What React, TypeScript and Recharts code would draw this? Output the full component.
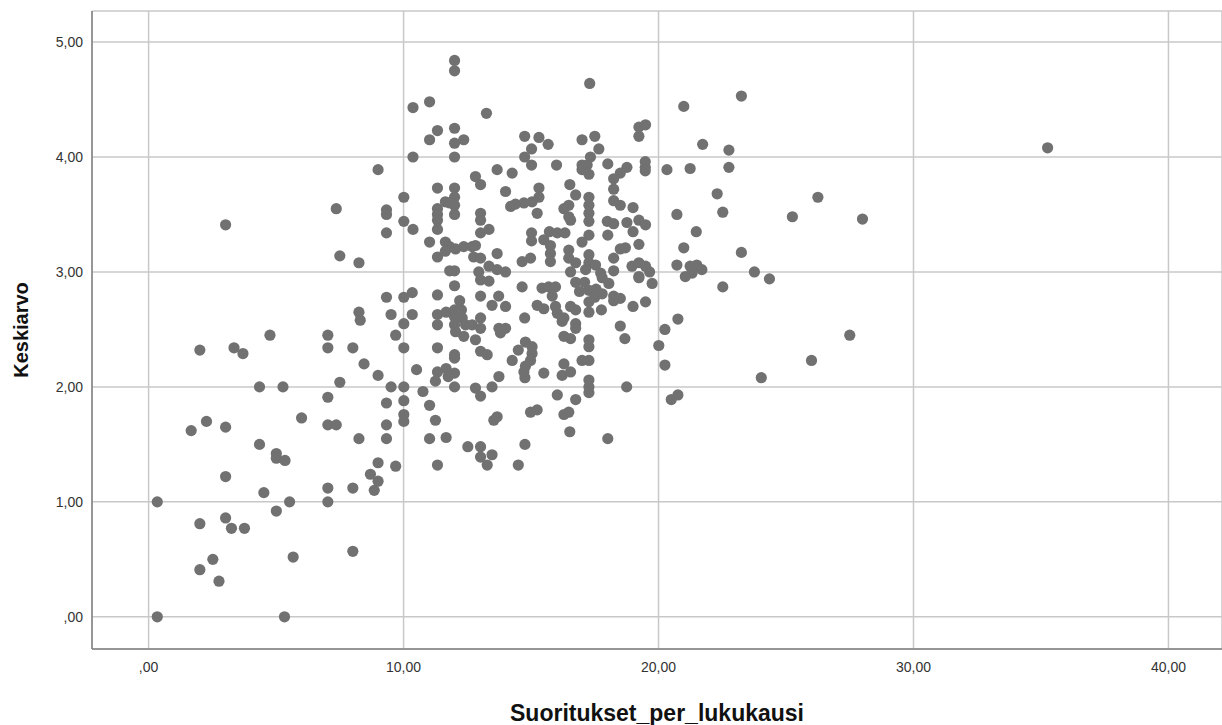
import { CartesianGrid, Scatter, ScatterChart, XAxis, YAxis } from "recharts";

// Suoritukset_per_lukukausi (x) vs Keskiarvo (y), grouped by x band
const lowBand: [number, number][] = [
  [3.02, 3.41], [7.36, 3.55], [7.5, 3.14], [8.25, 3.08], [8.25, 2.65], [8.3, 2.58], [4.76, 2.45],
  [7.03, 2.45], [2.01, 2.32], [3.35, 2.34], [3.7, 2.29], [7.03, 2.34], [8.01, 2.34], [8.45, 2.2],
  [4.35, 2.0], [5.27, 2.0], [7.5, 2.04], [7.03, 1.91], [6.0, 1.73], [1.67, 1.62], [2.27, 1.7],
  [3.02, 1.65], [7.03, 1.67], [7.36, 1.67], [8.25, 1.55], [4.35, 1.5], [5.01, 1.42], [5.01, 1.38],
  [5.35, 1.36], [3.02, 1.22], [4.52, 1.08], [7.03, 1.12], [8.01, 1.12], [0.34, 1.0], [5.53, 1.0],
  [7.03, 1.0], [5.01, 0.92], [2.01, 0.81], [3.02, 0.86], [3.25, 0.77], [3.76, 0.77], [8.01, 0.57],
  [5.67, 0.52], [2.52, 0.5], [2.01, 0.41], [2.76, 0.31], [0.34, 0], [5.33, 0],
];

const midBand: [number, number][] = [
  [12.0, 4.84], [12.0, 4.75], [10.37, 4.43], [11.02, 4.48], [11.33, 4.23], [11.02, 4.15], [12.0, 4.25],
  [12.0, 4.12], [12.36, 4.15], [10.37, 4.0], [12.0, 4.0], [9.0, 3.89], [11.33, 3.73], [12.0, 3.73],
  [12.0, 3.65], [12.0, 3.58], [12.0, 3.5], [11.64, 3.61], [11.81, 3.6], [11.33, 3.55], [11.33, 3.5],
  [11.33, 3.45], [10.01, 3.65], [9.33, 3.54], [9.33, 3.5], [10.01, 3.44], [10.37, 3.37], [11.33, 3.37],
  [9.33, 3.34], [11.02, 3.26], [11.64, 3.26], [11.81, 3.22], [12.04, 3.2], [12.36, 3.22], [12.69, 3.22],
  [11.33, 3.13], [11.64, 3.18], [12.75, 3.13], [11.81, 3.01], [12.0, 3.01], [12.95, 3.0],
  [12.0, 2.88], [9.33, 2.78], [10.01, 2.78], [10.34, 2.82], [11.33, 2.8], [9.51, 2.63], [10.01, 2.55],
  [10.34, 2.63], [11.33, 2.63], [11.67, 2.65], [11.33, 2.54], [12.0, 2.67], [12.27, 2.67], [12.0, 2.61],
  [12.3, 2.6], [12.0, 2.54], [12.43, 2.54], [12.04, 2.48], [12.36, 2.44], [12.2, 2.75], [12.69, 2.54],
  [9.69, 2.45], [10.01, 2.34], [11.33, 2.34], [9.0, 2.1], [10.51, 2.15], [12.0, 2.28], [12.0, 2.25],
  [11.33, 2.13], [11.67, 2.16], [12.0, 2.12], [11.75, 2.09], [11.25, 2.05], [9.51, 2.0], [10.01, 2.0],
  [10.76, 1.96], [12.0, 2.0], [9.33, 1.86], [10.01, 1.88], [11.02, 1.84], [10.01, 1.76], [10.01, 1.7],
  [9.33, 1.67], [11.25, 1.71], [9.33, 1.55], [11.02, 1.55], [11.67, 1.56], [12.52, 1.48], [9.0, 1.34],
  [9.69, 1.31], [11.33, 1.32], [8.7, 1.24], [9.0, 1.18], [8.85, 1.1],
];

const upperBand: [number, number][] = [
  [17.3, 4.64], [13.25, 4.38], [14.75, 4.18], [15.31, 4.17], [15.67, 4.11], [15.02, 4.07], [14.75, 4.0],
  [15.02, 3.93], [16.0, 3.93], [17.0, 4.15], [17.5, 4.18], [17.66, 4.07], [17.33, 4.0], [17.0, 3.93],
  [17.2, 3.93], [17.0, 3.89], [17.27, 3.85], [13.67, 3.89], [14.26, 3.86], [12.82, 3.83], [13.02, 3.76],
  [14.0, 3.7], [15.31, 3.73], [15.31, 3.65], [15.04, 3.61], [14.72, 3.6], [14.39, 3.59], [14.2, 3.57],
  [15.24, 3.51], [16.52, 3.76], [16.75, 3.67], [16.48, 3.58], [16.29, 3.55], [16.48, 3.48], [16.55, 3.45],
  [17.27, 3.65], [17.27, 3.58], [17.27, 3.51], [17.27, 3.44], [13.02, 3.51], [13.02, 3.45], [13.02, 3.34],
  [13.35, 3.37], [15.02, 3.34], [15.02, 3.27], [15.72, 3.35], [16.03, 3.34], [16.33, 3.34], [15.5, 3.28],
  [15.76, 3.23], [15.76, 3.16], [15.76, 3.09], [17.27, 3.32], [17.0, 3.26], [13.67, 3.16], [12.82, 3.23],
  [13.02, 3.12], [13.35, 3.05], [13.67, 3.02], [14.0, 3.0], [14.65, 3.09], [14.98, 3.12], [16.48, 3.19],
  [16.48, 3.12], [16.75, 3.08], [16.55, 3.0], [17.27, 3.15], [17.27, 3.08], [17.14, 3.02], [17.53, 3.06],
  [13.02, 2.93], [13.35, 2.92], [13.02, 2.79], [13.73, 2.79], [13.47, 2.71], [14.0, 2.7], [14.65, 2.87],
  [15.43, 2.86], [15.69, 2.87], [15.96, 2.87], [15.83, 2.79], [15.24, 2.71], [15.5, 2.68], [15.96, 2.7],
  [16.03, 2.64], [16.22, 2.57], [16.29, 2.6], [16.55, 2.7], [16.75, 2.67], [16.75, 2.55], [16.75, 2.51],
  [16.75, 2.91], [17.1, 2.91], [16.9, 2.83], [17.27, 2.84], [17.55, 2.85], [17.27, 2.74], [17.27, 2.65],
  [17.5, 2.78], [13.02, 2.6], [13.02, 2.51], [12.82, 2.41], [13.74, 2.51], [14.0, 2.51], [13.8, 2.47],
  [14.75, 2.6], [16.29, 2.44], [16.55, 2.42], [17.27, 2.41], [17.27, 2.35], [13.02, 2.31], [13.28, 2.28],
  [14.5, 2.32], [14.78, 2.39], [15.04, 2.35], [15.04, 2.29], [14.98, 2.23], [14.26, 2.23], [14.78, 2.18],
  [14.72, 2.13], [14.76, 2.08], [15.5, 2.12], [16.29, 2.2], [16.22, 2.1], [16.55, 2.13], [17.0, 2.23],
  [17.27, 2.23], [17.27, 2.06], [17.27, 2.0], [17.27, 1.95], [13.74, 2.09], [13.47, 2.0], [12.82, 1.99],
  [13.02, 1.92], [16.03, 1.93], [16.75, 1.89], [14.98, 1.78], [15.24, 1.8], [13.54, 1.71], [13.67, 1.74],
  [16.29, 1.76], [16.48, 1.78], [16.52, 1.61], [13.02, 1.48], [13.47, 1.41], [13.02, 1.39], [13.28, 1.32],
  [14.76, 1.5], [14.5, 1.32],
];

const highBand: [number, number][] = [
  [20.99, 4.44], [19.23, 4.26], [19.49, 4.28], [19.23, 4.18], [21.73, 4.11], [18.01, 3.94], [18.76, 3.91],
  [18.5, 3.86], [18.24, 3.81], [19.48, 3.96], [19.48, 3.91], [19.48, 3.88], [20.33, 3.89], [21.24, 3.9],
  [22.3, 3.68], [18.24, 3.72], [18.24, 3.62], [18.5, 3.58], [19.0, 3.56], [17.99, 3.44], [18.24, 3.42],
  [18.76, 3.43], [19.23, 3.45], [19.49, 3.41], [19.0, 3.35], [18.01, 3.32], [20.72, 3.5], [21.48, 3.35],
  [18.5, 3.2], [18.7, 3.21], [19.23, 3.24], [18.24, 3.12], [20.99, 3.21], [17.73, 2.99], [18.24, 3.01],
  [18.96, 3.05], [19.23, 3.08], [19.49, 3.05], [19.23, 2.96], [20.72, 3.06], [21.24, 3.05], [21.5, 3.06],
  [21.7, 3.02], [21.32, 2.99], [21.05, 2.96], [19.65, 3.0], [17.79, 2.95], [18.05, 2.9], [17.79, 2.81],
  [18.24, 2.79], [18.5, 2.77], [18.24, 2.75], [19.23, 2.95], [19.75, 2.9], [17.76, 2.67], [19.0, 2.7],
  [19.49, 2.74], [18.5, 2.53], [18.68, 2.42], [22.52, 2.87], [20.76, 2.59], [20.25, 2.5], [20.01, 2.36],
  [20.25, 2.19], [18.75, 2.0], [20.5, 1.89], [20.76, 1.93], [18.01, 1.55], [23.25, 4.53], [22.76, 4.06],
  [22.76, 3.91], [22.52, 3.52], [25.25, 3.48], [26.25, 3.65], [28.0, 3.46], [35.26, 4.08], [23.25, 3.17],
  [23.76, 3.0], [24.35, 2.94], [27.5, 2.45], [26.0, 2.23], [24.03, 2.08],
];

const xTicks = [0, 10, 20, 30, 40];
const yTicks = [0, 1, 2, 3, 4, 5];

const points = [...lowBand, ...midBand, ...upperBand, ...highBand].map(([x, y]) => ({ x, y }));

const fmt = (v: number) => (v === 0 ? ",00" : v.toFixed(2).replace(".", ","));

const font = "'Liberation Sans', Arial, sans-serif";

export default function App() {
  return (
    <div style={{ position: "absolute", left: 0, top: 0, background: "#fff" }}>
      <ScatterChart width={1222} height={725} margin={{ top: 11, right: 0, bottom: 6, left: 12 }}>
        <CartesianGrid stroke="#c8c8c8" strokeWidth={1.5} />
        <XAxis
          type="number"
          dataKey="x"
          domain={[-2.22, 42.1]}
          ticks={xTicks}
          tickFormatter={fmt}
          height={70}
          tickLine={false}
          tickSize={0}
          tickMargin={13}
          stroke="#808080"
          strokeWidth={1.5}
          tick={{ fill: "#333", fontSize: 14, fontFamily: font }}
          label={{
            value: "Suoritukset_per_lukukausi",
            position: "insideBottom",
            offset: -2,
            style: { fontSize: 23, fontWeight: "bold", fill: "#111", fontFamily: font },
          }}
        />
        <YAxis
          type="number"
          dataKey="y"
          domain={[-0.28, 5.27]}
          ticks={yTicks}
          tickFormatter={fmt}
          width={80}
          tickLine={false}
          tickSize={0}
          tickMargin={9}
          stroke="#808080"
          strokeWidth={1.5}
          tick={{ fill: "#333", fontSize: 14, fontFamily: font }}
          label={{
            value: "Keskiarvo",
            angle: -90,
            position: "insideLeft",
            offset: 9,
            style: { fontSize: 20, fontWeight: "bold", fill: "#111", fontFamily: font, textAnchor: "middle" },
          }}
        />
        <Scatter
          data={points}
          isAnimationActive={false}
          shape={(p: any) => <circle cx={p.cx} cy={p.cy} r={5.6} fill="#717171" />}
        />
      </ScatterChart>
    </div>
  );
}
